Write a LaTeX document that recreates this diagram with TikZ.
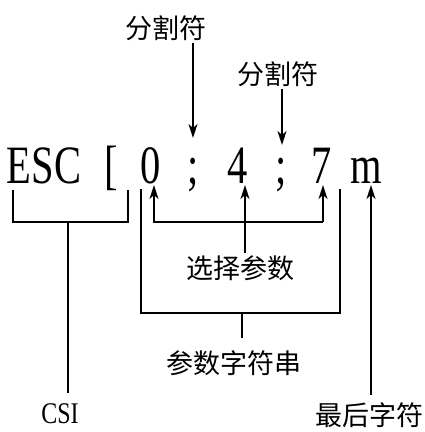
\documentclass[tikz,border=0pt]{standalone}
\usepackage{fontspec}
\setmainfont{Liberation Serif}
\newfontfamily\cjk{Noto Sans CJK SC}
\usetikzlibrary{arrows.meta}
\newcommand\nrw[1]{\scalebox{0.75}[1]{#1}}

\begin{document}
\begin{tikzpicture}[x=1pt, y=-1pt, line width=1.4pt,
    ch/.style={anchor=base, inner sep=2pt, font=\fontsize{54}{54}\selectfont},
    lab/.style={inner sep=2pt, font=\cjk\fontsize{27}{27}\selectfont},
    arr/.style={-{Stealth[length=14pt,width=9pt,inset=4pt]}}]
    \useasboundingbox (0,0) rectangle (425,432);
    % the escape sequence
    \node[ch] (esc) at (44,183) {\nrw{ESC}};
    \node[ch] (brk) at (111,183) {\nrw{[}};
    \node[ch] (zero) at (151,183) {\nrw{0}};
    \node[ch] (semiA) at (193,183) {\nrw{;}};
    \node[ch] (four) at (238,183) {\nrw{4}};
    \node[ch] (semiB) at (281,183) {\nrw{;}};
    \node[ch] (seven) at (322,183) {\nrw{7}};
    \node[ch] (em) at (366,183) {\nrw{m}};
    % labels
    \node[lab] (sepA) at (166,28) {分割符};
    \node[lab] (sepB) at (278,74) {分割符};
    \node[lab] (sel) at (240,268) {选择参数};
    \node[lab] (par) at (234,363) {参数字符串};
    \node[lab, inner sep=0pt, anchor=base] (last) at (369,425) {最后字符};
    \node[inner sep=0pt, anchor=base, font=\fontsize{30}{30}\selectfont] (csi) at (60,423) {\scalebox{0.8}[1]{CSI}};
    % points
    \coordinate (tipA) at (193,138); \coordinate (tipB) at (282,145);
    \coordinate (selL) at (154,185); \coordinate (selM) at (245,185); \coordinate (selR) at (323,185);
    \coordinate (selbar) at (0,222);
    \coordinate (csiL) at (13,190); \coordinate (csiR) at (128,190); \coordinate (csiM) at (68,222);
    \coordinate (parL) at (141,189); \coordinate (parR) at (340,189); \coordinate (parM) at (242,313);
    \coordinate (tipM) at (371,185); \coordinate (mfoot) at (371,395);
    % separators
    \draw[arr] (sepA.south -| tipA) -- (tipA);
    \draw[arr] (sepB.south -| tipB) -- (tipB);
    % selected parameters
    \draw[arr] (selR |- selbar) -| (selL);
    \draw[arr] (selR |- selbar) -- (selR);
    \draw[arr] (sel.north -| selM) -- (selM);
    % CSI bracket
    \draw (csiL) |- (csiR |- csiM) -- (csiR);
    \draw (csiM) -- ++(0,171);
    % parameter string bracket
    \draw (parL) |- (parR |- parM) -- (parR);
    \draw (parM) -- ++(0,25);
    % final character
    \draw[arr] (mfoot) -- (tipM);
\end{tikzpicture}
\end{document}
